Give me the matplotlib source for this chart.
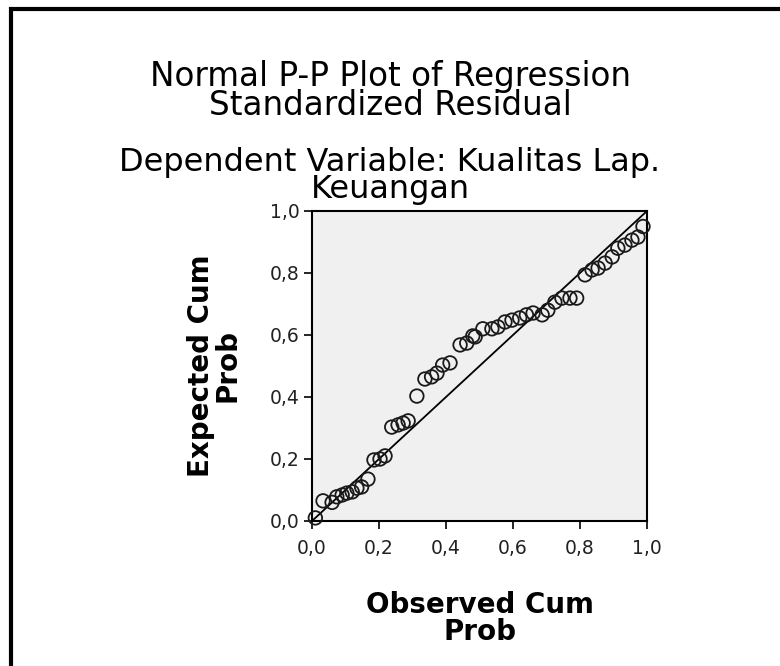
import matplotlib
matplotlib.use("Agg")
import matplotlib.pyplot as plt
from matplotlib.lines import Line2D

# --- datos ---
obs_cum = [0.01, 0.033, 0.06, 0.074, 0.09, 0.104, 0.12, 0.134, 0.148, 0.167,
           0.185, 0.203, 0.218, 0.238, 0.257, 0.272, 0.287, 0.313, 0.337, 0.357,
           0.373, 0.39, 0.412, 0.442, 0.462, 0.48, 0.487, 0.51, 0.537, 0.555,
           0.576, 0.597, 0.62, 0.64, 0.66, 0.687, 0.704, 0.725, 0.746, 0.77,
           0.79, 0.815, 0.836, 0.854, 0.875, 0.896, 0.913, 0.934, 0.955, 0.973,
           0.988]
exp_cum = [0.01, 0.065, 0.06, 0.078, 0.084, 0.09, 0.094, 0.106, 0.11, 0.135,
           0.197, 0.2, 0.21, 0.303, 0.31, 0.316, 0.323, 0.403, 0.458, 0.465,
           0.477, 0.503, 0.51, 0.568, 0.574, 0.597, 0.594, 0.62, 0.62, 0.626,
           0.642, 0.648, 0.655, 0.665, 0.671, 0.665, 0.68, 0.706, 0.719, 0.719,
           0.719, 0.794, 0.81, 0.816, 0.832, 0.852, 0.88, 0.89, 0.906, 0.916,
           0.95]
ticks = [0.0, 0.2, 0.4, 0.6, 0.8, 1.0]
tick_labels = ["0,0", "0,2", "0,4", "0,6", "0,8", "1,0"]

W, H = 780, 666
fig = plt.figure(figsize=(W / 100, H / 100), dpi=100)
fig.patch.set_facecolor("white")

# marco exterior (solo izquierda y arriba)
fig.add_artist(Line2D([11 / W, 11 / W], [0, 1 - 7 / H], color="black", lw=3, solid_capstyle="butt"))
fig.add_artist(Line2D([9 / W, 1], [1 - 9 / H, 1 - 9 / H], color="black", lw=3, solid_capstyle="butt"))

# titulos
fig.text(0.5, 1 - 91 / H, "Normal P-P Plot of Regression\nStandardized Residual",
         ha="center", va="center", fontsize=23.5, family="DejaVu Sans", linespacing=0.82)
fig.text(0.5, 1 - 176 / H, "Dependent Variable: Kualitas Lap.\nKeuangan",
         ha="center", va="center", fontsize=23, family="DejaVu Sans", linespacing=0.82)

ax = fig.add_axes([312 / W, 1 - 521 / H, 335 / W, 310 / H])
ax.set_facecolor("#f0f0f0")
ax.plot([0, 1], [0, 1], color="black", lw=1.3, zorder=2)
ax.scatter(obs_cum, exp_cum, s=95, facecolors="none", edgecolors="#1a1a1a",
           linewidths=1.3, zorder=3, clip_on=False)

ax.set_xlim(0, 1)
ax.set_ylim(0, 1)
ax.set_xticks(ticks)
ax.set_yticks(ticks)
ax.set_xticklabels(tick_labels)
ax.set_yticklabels(tick_labels)
for lab in ax.get_xticklabels() + ax.get_yticklabels():
    lab.set_family("DejaVu Sans")
    lab.set_fontsize(13.5)
    lab.set_color("#222222")
ax.tick_params(direction="out", length=6, width=1.2)
ax.tick_params(axis="x", pad=7)
ax.tick_params(axis="y", pad=3)
for sp in ax.spines.values():
    sp.set_linewidth(1.5)
    sp.set_color("black")

ax.set_xlabel("Observed Cum\nProb", fontsize=20, fontweight="bold",
              family="DejaVu Sans", linespacing=0.95, labelpad=24)
ax.set_ylabel("Expected Cum\nProb", fontsize=20, fontweight="bold",
              family="DejaVu Sans", linespacing=0.95, labelpad=20)

fig.savefig("out.png", dpi=100)
